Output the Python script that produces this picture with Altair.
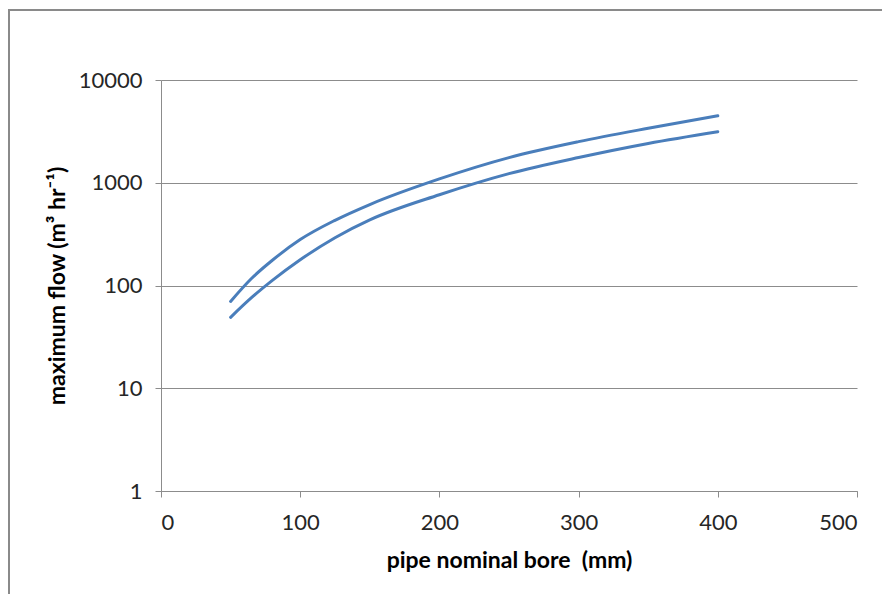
import altair as alt
import pandas as pd

# pipe nominal bore (mm)
bore_mm = [50, 65, 80, 100, 125, 150, 200, 250, 300, 350, 400]
# maximum flow (m3/hr), upper and lower curves
flow_upper = [70, 117, 176, 280, 431, 614, 1090, 1757, 2512, 3390, 4480]
flow_lower = [49, 76, 112, 178, 292, 435, 764, 1227, 1762, 2415, 3140]

x_ticks = [0, 100, 200, 300, 400, 500]
y_ticks = [1, 10, 100, 1000, 10000]

rows = []
for b, u in zip(bore_mm, flow_upper):
    rows.append({"bore": b, "flow": u, "series": "upper"})
for b, l in zip(bore_mm, flow_lower):
    rows.append({"bore": b, "flow": l, "series": "lower"})
df = pd.DataFrame(rows)

FONT = "Lato"
LINE = "#4A7EBB"
GRID = "#8C8C8C"

lines = alt.Chart(df).mark_line(
    interpolate="monotone", strokeWidth=3, color=LINE, strokeCap="round"
).encode(
    x=alt.X(
        "bore:Q",
        scale=alt.Scale(domain=[0, 500], nice=False, zero=False),
        axis=alt.Axis(
            values=x_ticks, title="pipe nominal bore\u00a0 (mm)", grid=False,
            tickSize=6, labelPadding=15, titlePadding=16,
        ),
    ),
    y=alt.Y(
        "flow:Q",
        scale=alt.Scale(type="log", domain=[1, 10000], nice=False),
        axis=alt.Axis(
            values=y_ticks, format="d", title="maximum flow (m³ hr⁻¹)",
            grid=True, tickSize=6, labelPadding=13, titlePadding=9,
        ),
    ),
    detail="series:N",
)

frame = alt.Chart(pd.DataFrame({"k": [0]})).mark_rect(
    fill=None, stroke="#8A8A8A", strokeWidth=2
).encode(
    x=alt.value(-152), x2=alt.value(760), y=alt.value(-70), y2=alt.value(560)
)

chart = alt.layer(frame, lines).properties(
    width=696,
    height=411,
    padding={"left": 153, "top": 72, "right": 25, "bottom": 103},
    autosize=alt.AutoSizeParams(type="none"),
    background="white",
).configure_view(
    stroke=None
).configure_axis(
    domainColor=GRID,
    tickColor=GRID,
    gridColor=GRID,
    gridWidth=1,
    domainWidth=1,
    labelFont=FONT,
    labelFontSize=22,
    labelColor="#262626",
    titleFont=FONT,
    titleFontSize=23,
    titleFontWeight="bold",
    titleColor="#000000",
)

chart.save("out.html", embed_options={"renderer": "svg", "actions": False})
